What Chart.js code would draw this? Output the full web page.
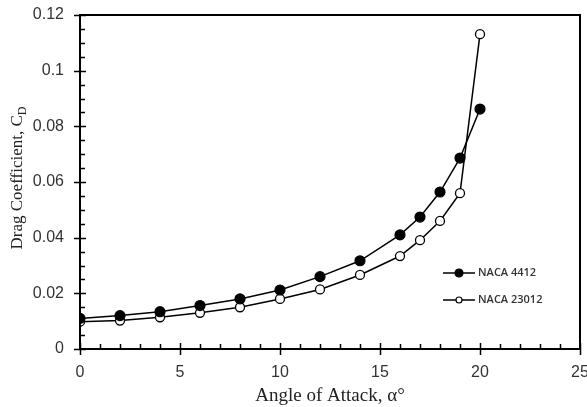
<!DOCTYPE html>
<html>
<head>
<meta charset="utf-8">
<script src="https://cdn.jsdelivr.net/npm/chart.js@4/dist/chart.umd.min.js"></script>
<style>
  body { margin: 0; background: #fff; }
  #wrap { width: 587px; height: 407px; }
</style>
</head>
<body>
<div id="wrap"><canvas id="dragChart" width="587" height="407"></canvas></div>
<script>
// angle of attack (deg)
const angles = [0, 2, 4, 6, 8, 10, 12, 14, 16, 17, 18, 19, 20];
// drag coefficient
const naca4412 = [0.011, 0.012, 0.0134, 0.0156, 0.018, 0.0212, 0.026, 0.0317, 0.041, 0.0474, 0.0564, 0.0686, 0.0862];
const naca23012 = [0.0098, 0.0102, 0.0114, 0.013, 0.015, 0.018, 0.0214, 0.0266, 0.0334, 0.0391, 0.046, 0.056, 0.1131];
const seriesNames = ["NACA 4412", "NACA 23012"];
const xTitle = "Angle of Attack, \u03b1\u00b0";
const yTitle = "Drag Coefficient, C";
const yTitleSub = "D";

function toPoints(ys) {
  return angles.map((a, i) => ({ x: a, y: ys[i] }));
}

//draws the box, the in/out ticks, y title and the legend
const extras = {
  id: "extras",
  afterDatasetsDraw(chart) {
    const ctx = chart.ctx;
    const a = chart.chartArea;
    const xs = chart.scales.x, ys = chart.scales.y;
    ctx.save();
    ctx.strokeStyle = "#000";
    ctx.lineWidth = 2;
    // box
    ctx.beginPath();
    ctx.moveTo(a.left, a.bottom);
    ctx.lineTo(a.left, a.top);
    ctx.lineTo(a.right, a.top);
    ctx.lineTo(a.right, a.bottom);
    ctx.lineTo(a.left, a.bottom);
    ctx.stroke();
    // x ticks
    ctx.lineWidth = 1.5;
    ctx.beginPath();
    for (let v = 0; v <= 25; v++) {
      const px = Math.round(xs.getPixelForValue(v)) + 0.5;
      if (v % 5 == 0) { ctx.moveTo(px, a.bottom - 6); ctx.lineTo(px, a.bottom + 6); }
      else { ctx.moveTo(px, a.bottom); ctx.lineTo(px, a.bottom - 5); }
    }
    // y ticks
    for (let k = 0; k <= 24; k++) {
      const py = Math.round(ys.getPixelForValue(k * 0.005)) + 0.5;
      if (k % 4 == 0) { ctx.moveTo(a.left - 6, py); ctx.lineTo(a.left + 6, py); }
      else { ctx.moveTo(a.left, py); ctx.lineTo(a.left + 5, py); }
    }
    ctx.stroke();

    // y axis title with subscript
    ctx.fillStyle = "#222";
    ctx.translate(18, 178);
    ctx.rotate(-Math.PI / 2);
    ctx.font = "17px 'Liberation Serif'";
    const w1 = ctx.measureText(yTitle).width;
    ctx.font = "12px 'Liberation Serif'";
    const w2 = ctx.measureText(yTitleSub).width;
    const start = -(w1 + w2) / 2;
    ctx.textBaseline = "middle";
    ctx.textAlign = "left";
    ctx.font = "17px 'Liberation Serif'";
    ctx.fillText(yTitle, start, 0);
    ctx.font = "12px 'Liberation Serif'";
    ctx.fillText(yTitleSub, start + w1, 5);
    ctx.restore();

    // legend
    ctx.save();
    const rows = [273, 300];
    chart.data.datasets.forEach((ds, i) => {
      const y = rows[i];
      ctx.strokeStyle = "#000";
      ctx.lineWidth = 1.5;
      ctx.beginPath();
      ctx.moveTo(443, y);
      ctx.lineTo(475, y);
      ctx.stroke();
      ctx.beginPath();
      ctx.arc(459, y, i == 0 ? 4 : 3, 0, Math.PI * 2);
      ctx.fillStyle = ds.pointBackgroundColor;
      ctx.fill();
      ctx.lineWidth = 1.2;
      ctx.stroke();
      ctx.fillStyle = "#333";
      ctx.font = "600 11px 'Open Sans'";
      ctx.textBaseline = "middle";
      ctx.fillText(ds.label, 478, y);
    });
    ctx.restore();
  }
};

new Chart("dragChart", {
  type: "line",
  data: {
    datasets: [
      { label: seriesNames[0], data: toPoints(naca4412), borderColor: "#000", borderWidth: 1.5,
        pointBackgroundColor: "#000", pointBorderColor: "#000", pointRadius: 5, pointBorderWidth: 1.2, fill: false, tension: 0 },
      { label: seriesNames[1], data: toPoints(naca23012), borderColor: "#000", borderWidth: 1.5,
        pointBackgroundColor: "#fff", pointBorderColor: "#000", pointRadius: 4.5, pointBorderWidth: 1.3, fill: false, tension: 0 }
    ]
  },
  options: {
    responsive: false,
    animation: false,
    layout: { padding: { top: 15, right: 7, left: 0, bottom: 0 } },
    plugins: { legend: { display: false }, tooltip: { enabled: false } },
    scales: {
      x: {
        type: "linear", min: 0, max: 25,
        grid: { display: false, drawTicks: false },
        border: { display: false },
        ticks: { stepSize: 5, padding: 14, color: "#333", font: { family: "'Liberation Sans'", size: 16 } },
        title: { display: true, text: xTitle, color: "#222", padding: { top: 0, bottom: 0 },
                 font: { family: "'Liberation Serif'", size: 19 } },
        afterFit(s) { s.height = 58; s.paddingLeft = 0; s.paddingRight = 7; }
      },
      y: {
        min: 0, max: 0.12,
        grid: { display: false, drawTicks: false },
        border: { display: false },
        ticks: { stepSize: 0.02, padding: 16, color: "#333", font: { family: "'Liberation Sans'", size: 16 },
                 callback: v => String(+v.toFixed(2)) },
        afterFit(s) { s.width = 80; s.paddingTop = 0; s.paddingBottom = 0; }
      }
    }
  },
  plugins: [extras]
});
</script>
</body>
</html>
